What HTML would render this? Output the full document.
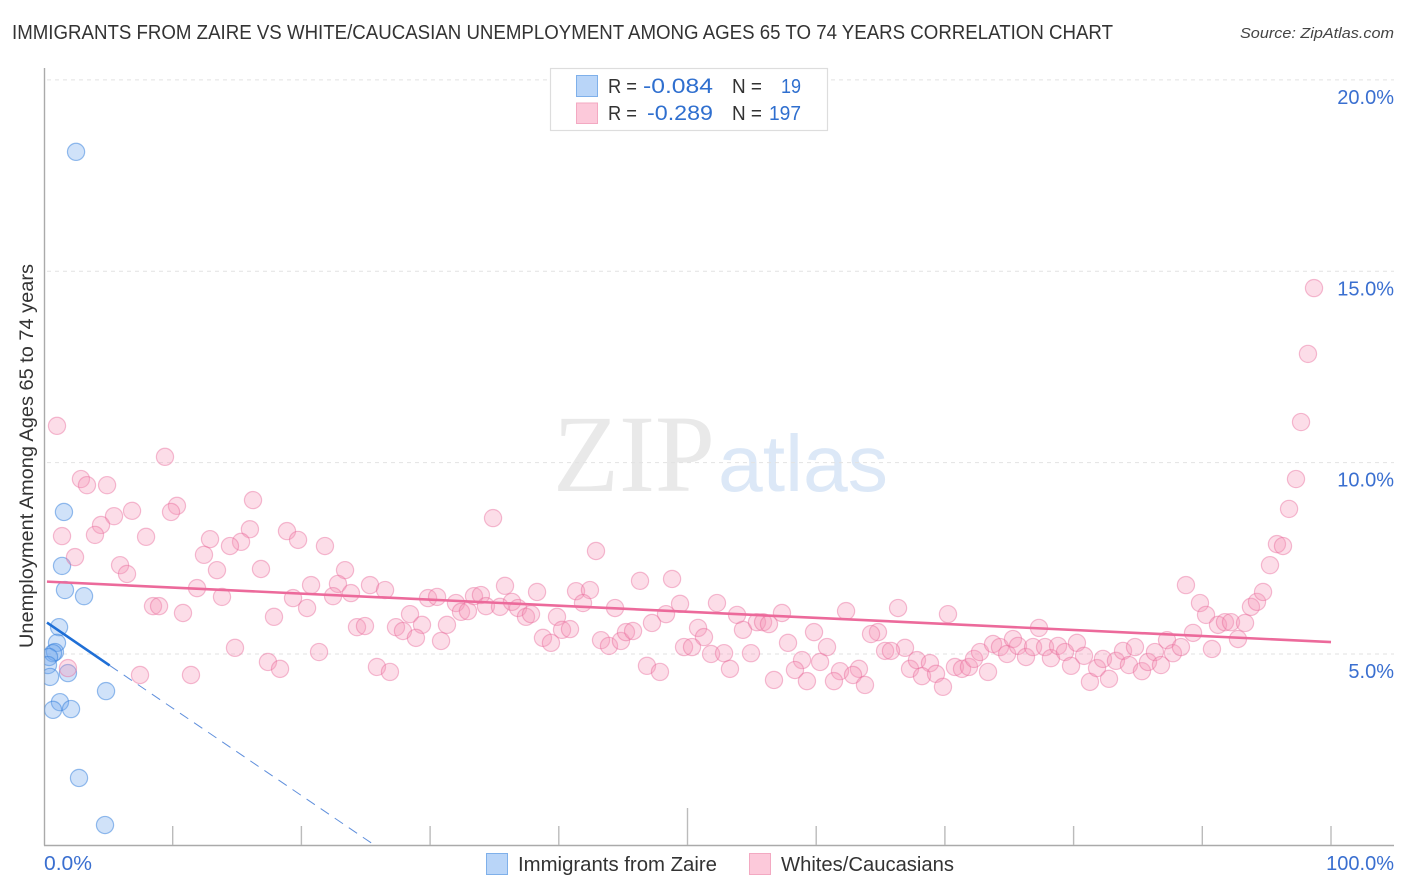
<!DOCTYPE html>
<html lang="en">
<head>
<meta charset="utf-8">
<title>Immigrants from Zaire vs White/Caucasian Unemployment Correlation Chart</title>
<style>
html,body{margin:0;padding:0;background:#fff;}
svg{display:block;font-family:"Liberation Sans",sans-serif;}
</style>
</head>
<body>
<svg id="chart" xmlns="http://www.w3.org/2000/svg" width="1406" height="892" viewBox="0 0 1406 892">
  <defs><clipPath id="plot-clip"><rect x="44.5" y="60" width="1350" height="785"/></clipPath></defs>
  <rect width="1406" height="892" fill="#fff"/>
  <text x="12" y="39" font-size="20" fill="#333" textLength="1101" lengthAdjust="spacingAndGlyphs">IMMIGRANTS FROM ZAIRE VS WHITE/CAUCASIAN UNEMPLOYMENT AMONG AGES 65 TO 74 YEARS CORRELATION CHART</text>
  <text x="1394" y="38" font-size="15" font-style="italic" fill="#444" text-anchor="end" textLength="154" lengthAdjust="spacingAndGlyphs">Source: ZipAtlas.com</text>
  <g>
    <text x="553" y="491" font-family="'Liberation Serif',serif" font-size="110" fill="#e9e9e9" textLength="162" lengthAdjust="spacingAndGlyphs">ZIP</text>
    <text x="718" y="491" font-size="80" fill="#dce8f7" textLength="170" lengthAdjust="spacingAndGlyphs">atlas</text>
  </g>
  <g id="grid"></g>
  <g id="axes"></g>
  <g id="marks-blue" clip-path="url(#plot-clip)"></g>
  <g id="marks-pink" clip-path="url(#plot-clip)"></g>
  <g id="trends"></g>
  <g id="tick-labels"></g>
  <text transform="translate(33,456) rotate(-90)" font-size="19" fill="#333" text-anchor="middle" textLength="384" lengthAdjust="spacingAndGlyphs">Unemployment Among Ages 65 to 74 years</text>

  <g>
    <rect x="550.5" y="68.5" width="277" height="62" fill="#fff" stroke="#ddd" stroke-width="1.2"/>
    <rect x="576.5" y="75.5" width="21" height="21" fill="#b9d5f8" stroke="#7fb0ea"/>
    <rect x="576.5" y="103" width="21" height="20.5" fill="#fcc9da" stroke="#f3a9c2"/>
    <text x="608" y="93" font-size="20" fill="#333" textLength="29" lengthAdjust="spacingAndGlyphs">R =</text>
    <text x="643" y="93" font-size="21" fill="#2f6fcf" textLength="70" lengthAdjust="spacingAndGlyphs">-0.084</text>
    <text x="732" y="93" font-size="20" fill="#333" textLength="30" lengthAdjust="spacingAndGlyphs">N =</text>
    <text x="781" y="93" font-size="20" fill="#2f6fcf" textLength="20" lengthAdjust="spacingAndGlyphs">19</text>
    <text x="608" y="120" font-size="20" fill="#333" textLength="29" lengthAdjust="spacingAndGlyphs">R =</text>
    <text x="647" y="120" font-size="21" fill="#2f6fcf" textLength="66" lengthAdjust="spacingAndGlyphs">-0.289</text>
    <text x="732" y="120" font-size="20" fill="#333" textLength="30" lengthAdjust="spacingAndGlyphs">N =</text>
    <text x="769" y="120" font-size="20" fill="#2f6fcf" textLength="32" lengthAdjust="spacingAndGlyphs">197</text>
  </g>

  <g>
    <g>
      <rect x="486.5" y="853.5" width="21" height="21" fill="#b9d5f8" stroke="#7fb0ea"/>
      <text x="518" y="871" font-size="20" fill="#333" textLength="199" lengthAdjust="spacingAndGlyphs">Immigrants from Zaire</text>
    </g>
    <g>
      <rect x="749.5" y="853.5" width="21" height="21" fill="#fcc9da" stroke="#f3a9c2"/>
      <text x="781" y="871" font-size="20" fill="#333" textLength="173" lengthAdjust="spacingAndGlyphs">Whites/Caucasians</text>
    </g>
  </g>
</svg>
<script>
const yTickValues = [5, 10, 15, 20];
const yTickLabels = ["5.0%", "10.0%", "15.0%", "20.0%"];
const xTickValues = [0, 10, 20, 30, 40, 50, 60, 70, 80, 90, 100];
const xEndLabels = ["0.0%", "100.0%"];

const blueX = [2.49,1.55,1.40,1.63,3.11,1.17,1.01,0.85,0.70,0.39,0.31,0.47,1.86,1.24,0.70,2.10,4.82,2.72,4.74];
const blueY = [18.12,8.71,7.30,6.67,6.51,5.70,5.29,5.05,5.02,4.92,4.71,4.40,4.50,3.74,3.54,3.56,4.03,1.76,0.53];

const pinkX = [1.01,9.40,2.87,3.34,4.90,16.24,10.33,6.84,9.87,5.44,4.43,3.96,1.40,7.93,16.00,18.88,19.74,21.83,12.90,15.31,14.45,12.43,2.41,5.91,6.45,13.44,16.86,23.39,11.89,20.75,22.84,13.83,19.35,22.46,23.85,25.33,26.50,8.47,8.94,10.80,20.44,17.87,24.32,24.94,27.35,27.89,28.44,29.37,28.90,30.85,31.31,29.84,30.54,32.01,32.40,32.94,33.41,33.95,34.34,35.43,34.89,35.82,14.84,17.40,18.34,21.37,25.87,26.88,7.46,11.42,1.86,42.89,46.31,48.80,38.31,41.34,42.42,36.36,36.83,37.45,37.84,41.88,44.37,49.42,52.29,48.33,47.24,53.85,54.31,55.40,55.87,56.33,57.34,39.86,40.25,40.87,38.77,39.39,43.28,43.90,44.83,45.22,45.77,50.82,51.28,49.73,50.35,51.83,52.84,54.93,53.30,46.85,47.86,56.72,62.32,66.36,70.24,59.83,57.81,60.84,64.80,64.26,66.90,65.35,65.81,58.90,60.30,58.35,59.28,61.85,61.38,63.32,62.86,63.79,67.29,67.83,68.84,68.22,69.31,69.85,70.78,71.33,71.87,72.26,72.73,73.35,73.74,74.28,74.83,75.29,75.68,76.30,76.85,77.31,77.78,78.24,78.79,79.33,79.80,80.26,80.81,81.27,81.82,82.28,82.75,83.29,83.84,84.30,84.77,85.31,85.78,86.32,86.79,87.26,87.72,88.34,89.28,90.75,88.73,89.82,90.29,91.22,91.76,92.23,93.32,92.77,93.78,94.25,94.72,95.26,95.80,96.27,96.74,97.28,97.67,98.21,98.68];
const pinkY = [10.96,10.15,9.57,9.41,9.41,9.02,8.87,8.74,8.71,8.60,8.37,8.11,8.08,8.06,8.26,8.21,7.98,7.82,8.00,7.93,7.82,7.59,7.53,7.32,7.09,7.19,7.22,7.19,6.72,6.80,6.83,6.49,6.46,6.51,6.59,6.80,6.67,6.25,6.25,6.07,6.20,5.97,5.70,5.73,5.70,5.60,6.04,5.76,5.42,5.34,5.76,6.46,6.49,6.33,6.10,6.12,6.51,6.54,6.25,6.23,8.55,6.78,5.16,4.79,4.61,5.05,4.66,4.53,4.45,4.45,4.63,7.69,6.91,6.96,6.62,6.64,6.67,6.36,6.20,5.97,6.04,6.33,6.20,6.31,6.33,6.04,5.81,6.02,5.63,5.83,5.83,5.78,6.07,5.97,5.63,5.65,5.42,5.29,5.36,5.21,5.34,5.57,5.60,5.68,5.44,5.18,5.18,5.00,5.02,5.02,4.61,4.69,4.53,4.32,6.12,6.20,6.04,5.57,5.29,5.18,5.57,5.52,5.16,5.08,5.08,4.84,4.79,4.58,4.29,4.55,4.29,4.61,4.45,4.19,4.61,4.84,4.76,4.42,4.48,4.14,4.66,4.61,4.66,4.87,5.05,4.53,5.26,5.18,5.00,5.39,5.21,4.92,5.18,5.68,5.18,4.89,5.21,5.05,4.69,5.29,4.95,4.27,4.63,4.87,4.35,4.82,5.08,4.71,5.18,4.55,4.79,5.05,4.71,5.36,5.02,5.18,5.55,5.13,6.80,6.33,6.02,5.76,5.83,5.83,5.81,5.39,6.23,6.36,6.62,7.32,7.87,7.82,8.79,9.57,11.06,12.84,14.56];

const pinkTrendX = [0.23, 100];
const pinkTrendY = [6.89, 5.31];
const blueTrendX = [0.23, 5.1];
const blueTrendY = [5.82, 4.70];
const blueDashX = [5.1, 25.7];
const blueDashY = [4.70, 0];

const NS = 'http://www.w3.org/2000/svg';
const scaleX = v => 44 + v * 12.87;
const scaleY = v => 845.3 - v * 38.27;

function make(tag, parentId, props) {
  const el = document.createElementNS(NS, tag);
  Object.keys(props).forEach(k => el.setAttribute(k, props[k]));
  document.getElementById(parentId).appendChild(el);
  return el;
}

yTickValues.forEach((v, i) => {
  const y = scaleY(v);
  const line = make('line', 'grid', {x1: 47, x2: 1394, y1: y, y2: y, stroke: '#e2e2e2', 'stroke-width': 1, 'stroke-dasharray': '4 4'});
  
  
  const label = make('text', 'tick-labels', {x: 1394, y: y + 24, 'font-size': 20, fill: '#3a6fd0', 'text-anchor': 'end'});
  label.textContent = yTickLabels[i];
  
  
});

const axisY = make('line', 'axes', {x1: 44.5, x2: 44.5, y1: 68, y2: 845.5, stroke: '#aaa', 'stroke-width': 1.4});


const axisX = make('line', 'axes', {x1: 44, x2: 1394, y1: 845.5, y2: 845.5, stroke: '#aaa', 'stroke-width': 1.4});



xTickValues.forEach(v => {
  if (v === 0) return;
  const x = scaleX(v);
  const tick = make('line', 'axes', {x1: x, x2: x, y1: v === 50 ? 808 : 826, y2: 845, stroke: '#bbb', 'stroke-width': 1.4});
  
  
});

const xLabelLeft = make('text', 'tick-labels', {x: 44, y: 870, 'font-size': 20, fill: '#3a6fd0', textLength: 48, lengthAdjust: 'spacingAndGlyphs'});
xLabelLeft.textContent = xEndLabels[0];


const xLabelRight = make('text', 'tick-labels', {x: 1394, y: 870, 'font-size': 20, fill: '#3a6fd0', 'text-anchor': 'end'});
xLabelRight.textContent = xEndLabels[1];



blueX.forEach((v, i) => {
  const c = make('circle', 'marks-blue', {cx: scaleX(v), cy: scaleY(blueY[i]), r: 8.6, fill: 'rgba(110,165,235,0.32)', stroke: 'rgba(50,125,220,0.5)', 'stroke-width': 1.2});
  
  
});

pinkX.forEach((v, i) => {
  const c = make('circle', 'marks-pink', {cx: scaleX(v), cy: scaleY(pinkY[i]), r: 8.6, fill: 'rgba(245,150,185,0.32)', stroke: 'rgba(232,100,150,0.42)', 'stroke-width': 1.2});
  
  
});

const trendPink = make('line', 'trends', {x1: scaleX(pinkTrendX[0]), y1: scaleY(pinkTrendY[0]), x2: scaleX(pinkTrendX[1]), y2: scaleY(pinkTrendY[1]), stroke: '#ec6a9b', 'stroke-width': 2.6});


const trendBlue = make('line', 'trends', {x1: scaleX(blueTrendX[0]), y1: scaleY(blueTrendY[0]), x2: scaleX(blueTrendX[1]), y2: scaleY(blueTrendY[1]), stroke: '#1f6fd6', 'stroke-width': 2.6});


const trendDash = make('line', 'trends', {x1: scaleX(blueDashX[0]), y1: scaleY(blueDashY[0]), x2: scaleX(blueDashX[1]), y2: scaleY(blueDashY[1]), stroke: '#5f8fdc', 'stroke-width': 1, 'stroke-dasharray': '10 7'});


</script>
</body>
</html>
